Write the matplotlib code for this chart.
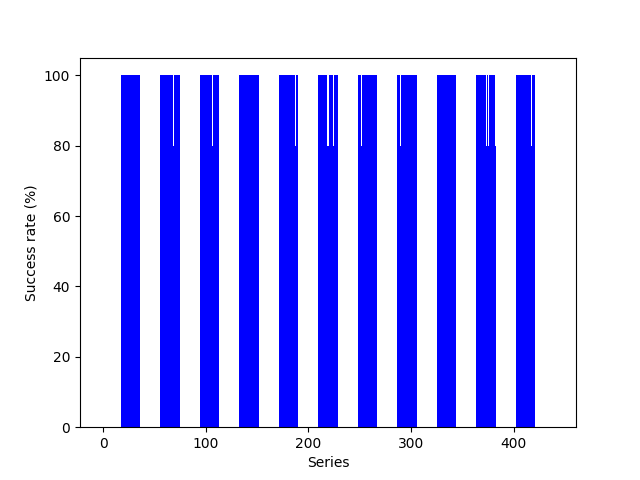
import numpy as np
import matplotlib
matplotlib.use('Agg')
import matplotlib.pyplot as plt

# series index ranges at 100 % (first, last)
block_first = [18, 56, 95, 133, 172, 210, 249, 287, 326, 364, 403]
block_last = [35, 74, 112, 151, 189, 228, 266, 305, 343, 381, 420]
# series that only reached 80 %
dip_series = [69, 107, 187, 219, 224, 252, 290, 373, 375, 382, 417]
dip_value = 80
n_series = 439

rates = np.zeros(n_series)
for a, b in zip(block_first, block_last):
    rates[a:b + 1] = 100
rates[dip_series] = dip_value

fig, ax = plt.subplots(figsize=(6.4, 4.8), dpi=100)
ax.bar(np.arange(n_series), rates, width=1.0, color='blue')
ax.set_xlabel('Series')
ax.set_ylabel('Success rate (%)')
fig.savefig('out.png')
